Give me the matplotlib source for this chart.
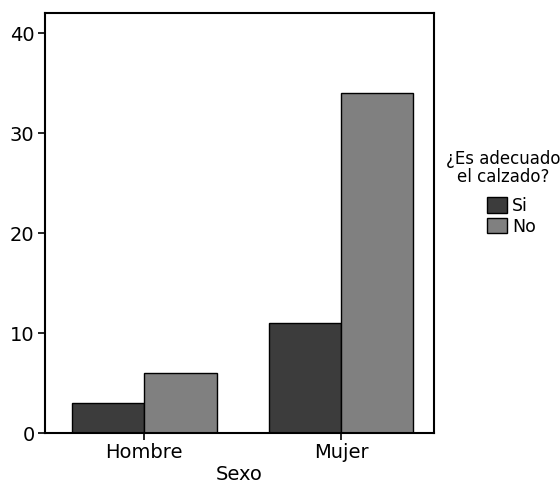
import matplotlib.pyplot as plt
import numpy as np

categories = ['Hombre', 'Mujer']
si_values = [3, 11]
no_values = [6, 34]
series_labels = ['Si', 'No']
yticks = [0, 10, 20, 30, 40]

fig = plt.figure(figsize=(5.6, 4.86), dpi=100)
ax = fig.add_axes([0.0804, 0.109, 0.695, 0.864])

x = np.arange(len(categories))
w = 0.367
b1 = ax.bar(x - w / 2, si_values, w, color='#3c3c3c', edgecolor='black', linewidth=1.0, label=series_labels[0])
b2 = ax.bar(x + w / 2, no_values, w, color='#808080', edgecolor='black', linewidth=1.0, label=series_labels[1])

ax.set_xlim(-0.505, 1.474)
ax.set_ylim(0, 42)
ax.set_yticks(yticks)
ax.set_xticks(x)
ax.set_xticklabels(categories)
ax.tick_params(labelsize=14, width=1.2, length=5, color='black', pad=2.5)
ax.set_xlabel('Sexo', fontsize=14, labelpad=2)
for s in ax.spines.values():
    s.set_linewidth(1.5)

# legend title drawn separately so the gap above the entries can match
fig.text(0.898, 1 - 168 / 486, '¿Es adecuado\nel calzado?', ha='center', va='center',
         fontsize=12, linespacing=1.05)
fig.legend(handles=[b1, b2], loc='upper left', bbox_to_anchor=(487 / 560, 1 - 197 / 486),
           frameon=False, fontsize=12.5, borderpad=0, borderaxespad=0,
           handlelength=1.15, handleheight=1.0, handletextpad=0.3, labelspacing=0.15)

fig.savefig('out.png')
